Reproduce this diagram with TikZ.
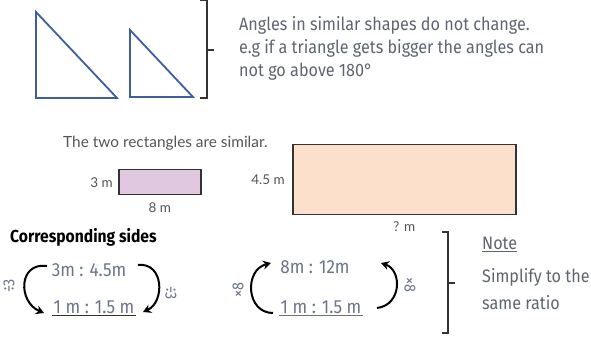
\documentclass[tikz,border=0pt]{standalone}
\usepackage{fontspec}
\setmainfont{Lato}
\newfontfamily\hand[FakeStretch=0.9]{Fira Sans}
\usetikzlibrary{arrows.meta}
\definecolor{tri}{HTML}{3F5E9E}
\definecolor{handc}{HTML}{5E6472}
\definecolor{ratioc}{HTML}{6A7588}
\definecolor{lav}{HTML}{E0C9E0}
\definecolor{peach}{HTML}{FDE0CC}
\definecolor{labc}{HTML}{555555}
\definecolor{brk}{HTML}{333333}
\tikzset{
  trishape/.style={draw=tri, line width=1.8pt, line join=miter},
  bracket/.style={draw=brk, line width=1.4pt},
  handtext/.style={text=handc, font=\hand\fontsize{18}{23}\selectfont, align=left, inner sep=0pt},
  ratiotext/.style={text=ratioc, font=\hand\fontsize{19}{21}\selectfont, inner sep=1pt},
  rotlabel/.style={text=ratioc, font=\hand\fontsize{16}{18}\selectfont, inner sep=0pt},
  rectlabel/.style={text=labc, font=\fontsize{13.5}{15}\selectfont, inner sep=0pt},
  rectbox/.style={draw=brk, line width=1.5pt, anchor=north west, inner sep=0pt},
  curvearrow/.style={draw=black, line width=2pt, -{Stealth[length=8pt,width=9pt]}},
}
\begin{document}
\begin{tikzpicture}[x=1pt,y=-1pt]
\useasboundingbox (0,0) rectangle (591,344);
% triangles
\draw[trishape] (36,12) -- (36,98) -- (117,98) -- cycle;
\draw[trishape] (130,30) -- (130,97) -- (193,97) -- cycle;
% first bracket
\draw[bracket] (200,0) -- (207,0) -- (207,98) -- (200,98);
\draw[bracket] (207,50) -- (214,50);
\node[handtext, anchor=west] (angles) at (239,48)
  {Angles in similar shapes do not change.\\
   e.g if a triangle gets bigger the angles can\\
   not go above 180°};
% rectangles
\node[anchor=west, inner sep=0pt, text=labc, font=\fontsize{15.4}{17}\selectfont] (title) at (63,143) {The two rectangles are similar.};
\node[rectbox, fill=lav, minimum width=82pt, minimum height=25pt] (small) at (118,169) {};
\node[rectlabel, anchor=east, xshift=-5pt] (three) at (small.west) {3 m};
\node[rectlabel, anchor=north, yshift=-7pt] (eight) at (small.south) {8 m};
\node[rectbox, fill=peach, minimum width=223pt, minimum height=70pt] (big) at (292,144) {};
\node[rectlabel, anchor=east, xshift=-7pt] (fourfive) at (big.west) {4.5 m};
\node[rectlabel, anchor=north, yshift=-6pt] (qm) at (big.south) {? m};
% corresponding sides
\node[anchor=west, inner sep=0pt, font=\hand\bfseries\fontsize{17.4}{20}\selectfont] (corr) at (10,237) {Corresponding sides};
% left ratio group
\node[ratiotext] (r1) at (89,270) {3m : 4.5m};
\node[ratiotext] (r2) at (94,307) {1 m : 1.5 m};
\draw[draw=brk, line width=1.3pt] ([yshift=-1pt]r2.south west) -- ([yshift=-1pt]r2.south east);
\coordinate (la1) at (47,266);
\coordinate (la2) at (44,313);
\coordinate (ra1) at (138,265);
\coordinate (ra2) at (143,312);
\draw[curvearrow] (la1) .. controls (18,262) and (18,302) .. (la2);
\draw[curvearrow] (ra1) .. controls (164,262) and (165,302) .. (ra2);
\node[rotlabel, rotate=90] (d1) at (9,286) {÷3};
\node[rotlabel, rotate=-90] (d2) at (171,293) {÷3};
% middle ratio group
\node[ratiotext] (m1) at (315,267) {8m : 12m};
\node[ratiotext] (m2) at (321,307) {1 m : 1.5 m};
\draw[draw=brk!70, line width=1.3pt] ([yshift=-1pt]m2.south west) -- ([yshift=-1pt]m2.south east);
\coordinate (lb1) at (273,313);
\coordinate (lb2) at (271,263);
\coordinate (rb1) at (377,308);
\coordinate (rb2) at (381,263);
\draw[curvearrow] (lb1) .. controls (246,313) and (244,270) .. (lb2);
\draw[curvearrow] (rb1) .. controls (402,305) and (402,270) .. (rb2);
\node[rotlabel, rotate=90] (x1) at (238,290) {×8};
\node[rotlabel, rotate=-90] (x2) at (410,285) {×8};
% second bracket
\draw[bracket] (442,232) -- (448,232) -- (448,333) -- (442,333);
\draw[bracket] (448,283) -- (455,283);
\node[handtext, anchor=west] (note) at (482,243) {Note};
\draw[draw=handc, line width=1pt] ([yshift=-2pt]note.south west) -- ([yshift=-2pt]note.south east);
\node[handtext, anchor=west, font=\hand\fontsize{18}{27}\selectfont] (simp) at (482,289) {Simplify to the\\ same ratio};
\end{tikzpicture}
\end{document}
